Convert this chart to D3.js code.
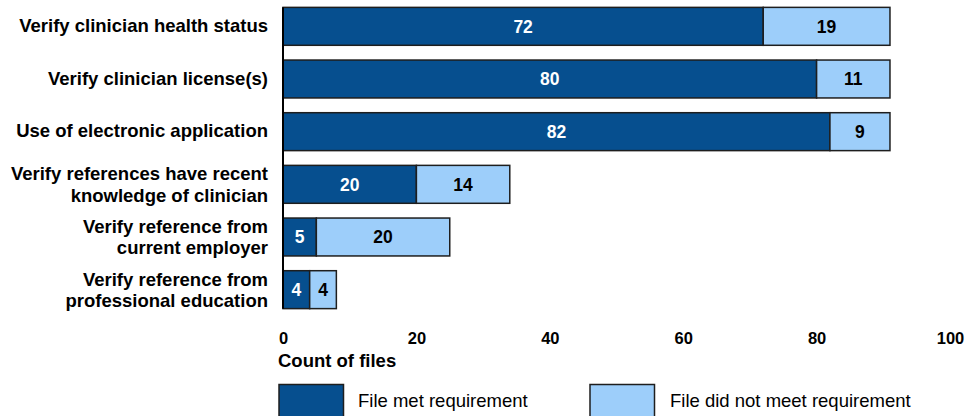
<!DOCTYPE html>
<html lang="en">
<head>
	<meta charset="utf-8">
	<title>Credentialing file review</title>
	<script type="text/javascript" src="https://cdn.jsdelivr.net/npm/d3@7"></script>
	<style>
		html, body { margin: 0; padding: 0; background: #fff; }
		body { font-family: Arial, "Liberation Sans", sans-serif; }
		.cat { font-size: 18.5px; font-weight: bold; fill: #000; }
		.val { font-size: 17.5px; font-weight: bold; }
		.tick text { font-size: 16.5px; font-weight: bold; fill: #000; font-family: Arial, "Liberation Sans", sans-serif; }
		.leg { font-size: 18.5px; fill: #000; }
	</style>
</head>
<body>
	<div id="chart"></div>

	<script type="text/javascript">

		var w = 980,
		    h = 416;

		// data
		var categories = [
			"Verify clinician health status",
			"Verify clinician license(s)",
			"Use of electronic application",
			"Verify references have recent\nknowledge of clinician",
			"Verify reference from\ncurrent employer",
			"Verify reference from\nprofessional education"
		];
		var met    = [72, 80, 82, 20, 5, 4];
		var notMet = [19, 11, 9, 14, 20, 4];
		var xTicks = [0, 20, 40, 60, 80, 100];
		var seriesNames = ["File met requirement", "File did not meet requirement"];

		var dark = "#064f8f",
		    light = "#9dcefa",
		    edge = "#1e1e1e";

		var svg = d3.select("#chart")
			.append("svg")
			.attr("width", w)
			.attr("height", h);

		var x = d3.scaleLinear().domain([0, 100]).range([283, 950]);
		var y = d3.scaleBand()
			.domain(d3.range(categories.length))
			.range([0, 316])
			.paddingInner(0.28)
			.paddingOuter(0.14);

		var rows = categories.map(function(c, i) {
			return {label: c, met: met[i], notMet: notMet[i], i: i};
		});

		// stacked segments
		var segs = [];
		rows.forEach(function(r) {
			segs.push({i: r.i, x0: 0, x1: r.met, v: r.met, fill: dark, txt: "#fff"});
			segs.push({i: r.i, x0: r.met, x1: r.met + r.notMet, v: r.notMet, fill: light, txt: "#000"});
		});

		svg.selectAll(".bar")
			.data(segs)
			.enter()
			.append("rect")
			.attr("class", "bar")
			.attr("x", function(d) { return x(d.x0); })
			.attr("y", function(d) { return y(d.i); })
			.attr("width", function(d) { return x(d.x1) - x(d.x0); })
			.attr("height", y.bandwidth())
			.attr("fill", function(d) { return d.fill; })
			.attr("stroke", edge)
			.attr("stroke-width", 1.5);

		svg.selectAll(".val")
			.data(segs)
			.enter()
			.append("text")
			.attr("class", "val")
			.attr("text-anchor", "middle")
			.attr("x", function(d) { return (x(d.x0) + x(d.x1)) / 2; })
			.attr("y", function(d) { return y(d.i) + y.bandwidth() / 2 + 6.3; })
			.attr("fill", function(d) { return d.txt; })
			.text(function(d) { return d.v; });

		// vertical axis line
		svg.append("line")
			.attr("x1", x(0)).attr("x2", x(0))
			.attr("y1", y(0))
			.attr("y2", y(categories.length - 1) + y.bandwidth())
			.attr("stroke", "#000")
			.attr("stroke-width", 2);

		// category labels (may wrap on \n)
		var lab = svg.selectAll(".cat")
			.data(rows)
			.enter()
			.append("text")
			.attr("class", "cat")
			.attr("text-anchor", "end");

		lab.each(function(d) {
			var lines = d.label.split("\n");
			var cy = y(d.i) + y.bandwidth() / 2;
			var t = d3.select(this);
			lines.forEach(function(l, k) {
				var off = lines.length == 1 ? 5.5 : 6.7 + (k - 0.5) * 21.5;
				t.append("tspan")
					.attr("x", 268)
					.attr("y", cy + off)
					.text(l);
			});
		});

		// x axis, labels only
		var xAxis = svg.append("g")
			.attr("transform", "translate(0,344)")
			.call(d3.axisBottom(x).tickValues(xTicks).tickSize(0));
		xAxis.select(".domain").remove();
		xAxis.selectAll("text").attr("y", 0).attr("dy", 0);

		svg.append("text")
			.attr("x", 278)
			.attr("y", 366.5)
			.attr("font-size", "18.5px")
			.attr("font-weight", "bold")
			.text("Count of files");

		// legend
		var legX = [279, 590];
		var leg = svg.selectAll(".legitem")
			.data(seriesNames)
			.enter()
			.append("g")
			.attr("class", "legitem")
			.attr("transform", function(d, i) { return "translate(" + legX[i] + ",0)"; });

		leg.append("rect")
			.attr("x", 0)
			.attr("y", 384.5)
			.attr("width", 64.5)
			.attr("height", 40)
			.attr("fill", function(d, i) { return i == 0 ? dark : light; })
			.attr("stroke", edge)
			.attr("stroke-width", 1.5);

		leg.append("text")
			.attr("class", "leg")
			.attr("x", function(d, i) { return i == 0 ? 79 : 80; })
			.attr("y", 406.5)
			.text(function(d) { return d; });
	</script>
</body>
</html>
